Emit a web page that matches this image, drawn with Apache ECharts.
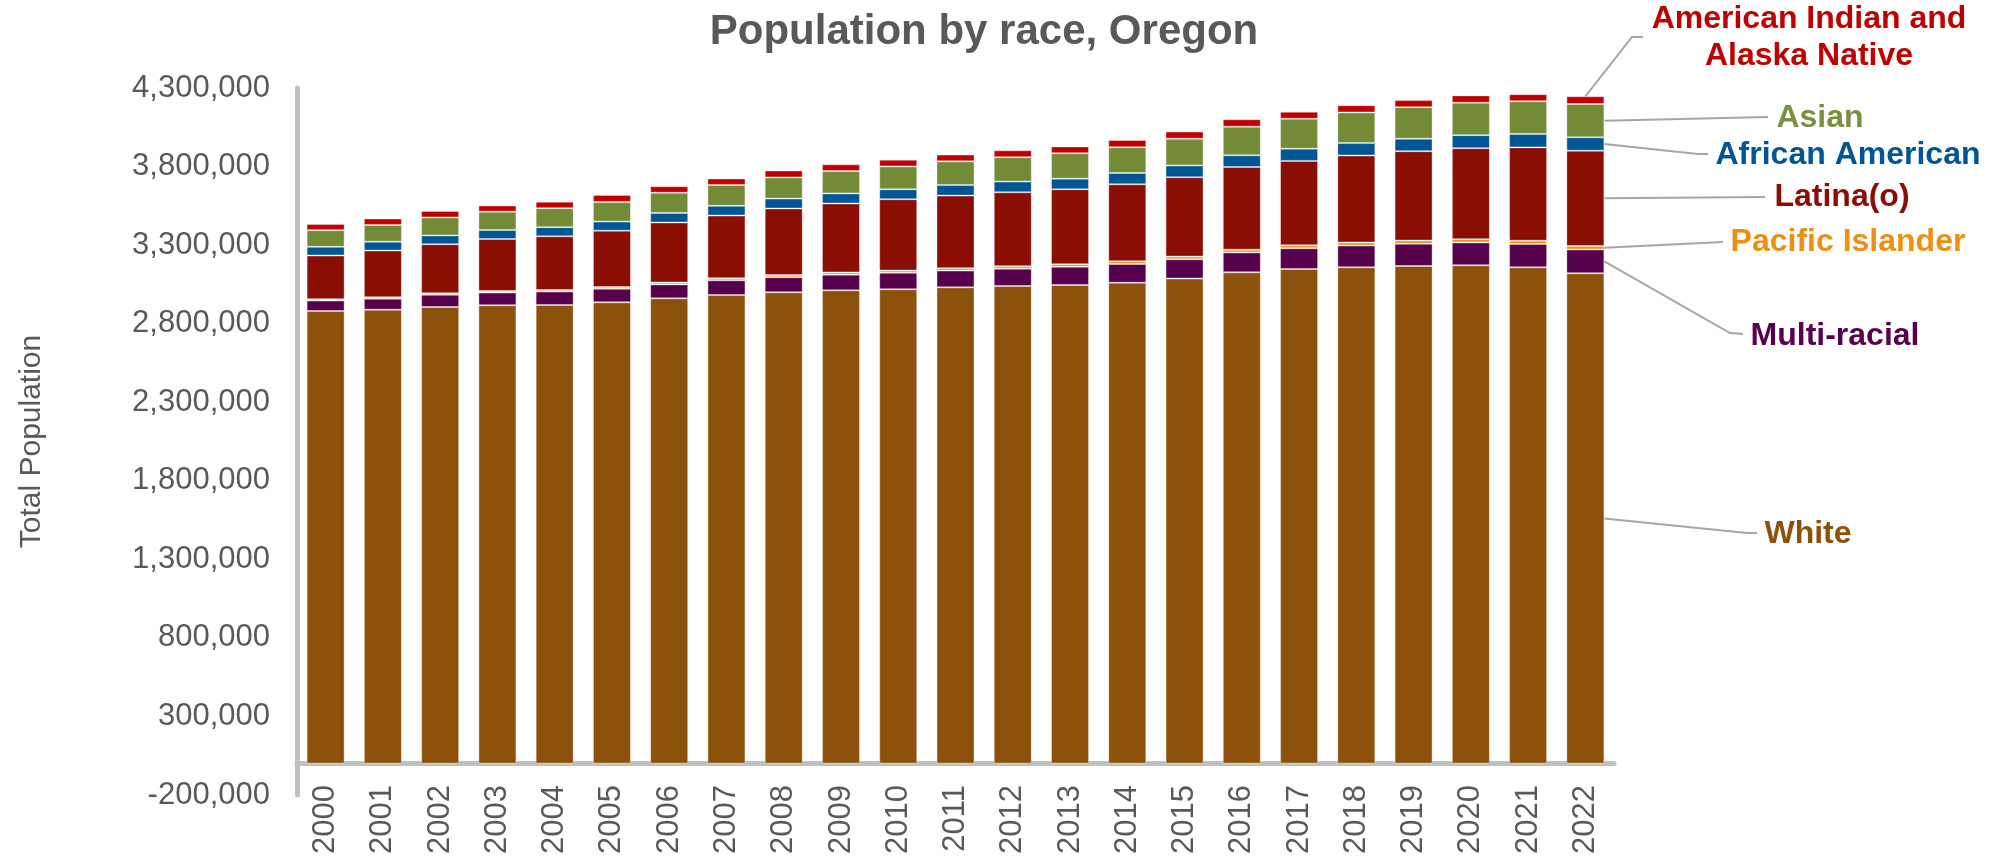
<!DOCTYPE html>
<html>
<head>
<meta charset="utf-8">
<title>Population by race, Oregon</title>
<script src="https://cdn.jsdelivr.net/npm/echarts@6/dist/echarts.min.js"></script>
<style>
    html, body { margin: 0; padding: 0; background: #ffffff; }
    #chart { width: 1997px; height: 856px; }
</style>
</head>
<body>
<div id="chart"></div>
<script>
const years = ['2000', '2001', '2002', '2003', '2004', '2005', '2006', '2007', '2008', '2009', '2010',
    '2011', '2012', '2013', '2014', '2015', '2016', '2017', '2018', '2019', '2020', '2021', '2022'];

const white = [2881000, 2889000, 2906000, 2917000, 2919000, 2936000, 2961000, 2983000, 3000000, 3012000, 3019000,
    3031000, 3040000, 3046000, 3061000, 3087000, 3127000, 3148000, 3159000, 3167000, 3172000, 3159000, 3121000];
const multiRacial = [66000, 70000, 78000, 81000, 85000, 86000, 89000, 93000, 96000, 100000, 105000,
    107000, 110000, 116000, 119000, 123000, 126000, 132000, 138000, 142000, 145000, 148000, 151000];
const pacificIslander = [9000, 9500, 9500, 10000, 10000, 11000, 12000, 13000, 13000, 14000, 14000,
    15000, 15500, 16000, 17000, 17000, 18000, 19000, 19500, 20000, 21000, 21000, 22000];
const latina = [278000, 297000, 312000, 331000, 342000, 359000, 382000, 399000, 424000, 439000, 454000,
    462000, 471000, 477000, 490000, 505000, 526000, 537000, 554000, 569000, 579000, 594000, 607000];
const africanAmerican = [55000, 56000, 56000, 57000, 58000, 58000, 61000, 62000, 63000, 64000, 63000,
    67000, 68000, 68000, 72000, 75000, 75000, 78000, 79000, 79000, 83000, 86000, 85000];
const asian = [106000, 107000, 115000, 117000, 121000, 125000, 128000, 133000, 135000, 142000, 146000,
    151000, 155000, 162000, 164000, 170000, 182000, 190000, 195000, 201000, 206000, 208000, 212000];
const aian = [39000, 41000, 41000, 39000, 41000, 44000, 42000, 41000, 44000, 43000, 43000,
    43000, 44000, 43000, 46000, 46000, 47000, 45000, 46000, 45000, 47000, 45000, 49000];

const yTicks = [-200000, 300000, 800000, 1300000, 1800000, 2300000, 2800000, 3300000, 3800000, 4300000];

// bottom to top
const groups = [
    { name: 'White', data: white, color: '#8c520c', text: '#8c520c' },
    { name: 'Multi-racial', data: multiRacial, color: '#57004b', text: '#58004f' },
    { name: 'Pacific Islander', data: pacificIslander, color: '#ee8f12', text: '#ef8f12' },
    { name: 'Latina(o)', data: latina, color: '#8a0e04', text: '#8a0e04' },
    { name: 'African American', data: africanAmerican, color: '#005695', text: '#005695' },
    { name: 'Asian', data: asian, color: '#738a37', text: '#76923c' },
    { name: 'American Indian and\nAlaska Native', data: aian, color: '#c00000', text: '#c00000' }
];

// where each callout text sits and where its leader line bends
const callouts = [
    { text: [1808, 534], bend: [[1747, 533], [1757, 533]] },
    { text: [1835, 336], bend: [[1730, 333], [1743, 334]] },
    { text: [1848, 242], bend: [[1723, 242]] },
    { text: [1842, 197], bend: [[1765, 197]] },
    { text: [1848, 155], bend: [[1698, 154], [1708, 154]] },
    { text: [1820, 118], bend: [[1768, 117]] },
    { text: [1809, 38], bend: [[1632, 37], [1643, 37]] }
];

const FONT = 'Liberation Sans, Arial, sans-serif';
const BAR_WIDTH = 38;

const chart = echarts.init(document.getElementById('chart'));

chart.setOption({
    backgroundColor: '#ffffff',
    animation: false,
    textStyle: { fontFamily: FONT },
    grid: {
        left: 297,
        right: 383,
        top: 88,
        bottom: 61,
        containLabel: false,
        outerBoundsMode: 'none'
    },
    xAxis: {
        type: 'category',
        data: years,
        axisLine: {
            onZero: true,
            lineStyle: { color: '#c0c0c0', width: 5 }
        },
        axisTick: { show: false },
        axisLabel: {
            rotate: 90,
            margin: -10,
            color: '#595959',
            fontSize: 31,
            fontFamily: FONT
        }
    },
    yAxis: {
        type: 'value',
        min: -200000,
        max: 4300000,
        name: 'Total Population',
        nameLocation: 'middle',
        nameGap: 250,
        nameTextStyle: {
            color: '#595959',
            fontSize: 30,
            fontFamily: FONT
        },
        axisLine: {
            show: true,
            lineStyle: { color: '#c0c0c0', width: 5 }
        },
        axisTick: { show: false },
        splitLine: { show: false },
        axisLabel: {
            margin: 27,
            color: '#595959',
            fontSize: 31,
            fontFamily: FONT,
            customValues: yTicks,
            formatter: (v) => v.toLocaleString('en-US')
        }
    },
    series: groups.map((g) => ({
        name: g.name,
        type: 'bar',
        stack: 'total',
        barWidth: BAR_WIDTH,
        data: g.data,
        itemStyle: {
            color: g.color,
            borderColor: 'rgba(255,255,255,0.35)',
            borderWidth: 1
        }
    }))
});

// Callouts for the last year: leader lines start on the 2022 bar segments
function buildCallouts() {
    const last = years.length - 1;
    const year = years[last];
    const elements = [];
    let base = 0;
    groups.forEach((g, i) => {
        const v = g.data[last];
        const top = base + v;
        let start;
        if (i === groups.length - 1) {
            start = chart.convertToPixel({ gridIndex: 0 }, [year, top]);
        } else {
            start = chart.convertToPixel({ gridIndex: 0 }, [year, base + v / 2]);
            start[0] += BAR_WIDTH / 2;
        }
        base = top;
        const c = callouts[i];
        elements.push({
            type: 'polyline',
            silent: true,
            shape: { points: [start].concat(c.bend) },
            style: { stroke: '#a6a6a6', lineWidth: 2, fill: null }
        });
        elements.push({
            type: 'text',
            silent: true,
            x: c.text[0],
            y: c.text[1],
            style: {
                text: g.name,
                fill: g.text,
                font: 'bold 32px ' + FONT,
                align: 'center',
                verticalAlign: 'middle',
                lineHeight: 37
            }
        });
    });
    elements.push({
        type: 'text',
        silent: true,
        x: 984,
        y: 32,
        style: {
            text: 'Population by race, Oregon',
            fill: '#595959',
            font: 'bold 42px ' + FONT,
            align: 'center',
            verticalAlign: 'middle'
        }
    });
    chart.setOption({ graphic: { elements } });
}

buildCallouts();
</script>
</body>
</html>
